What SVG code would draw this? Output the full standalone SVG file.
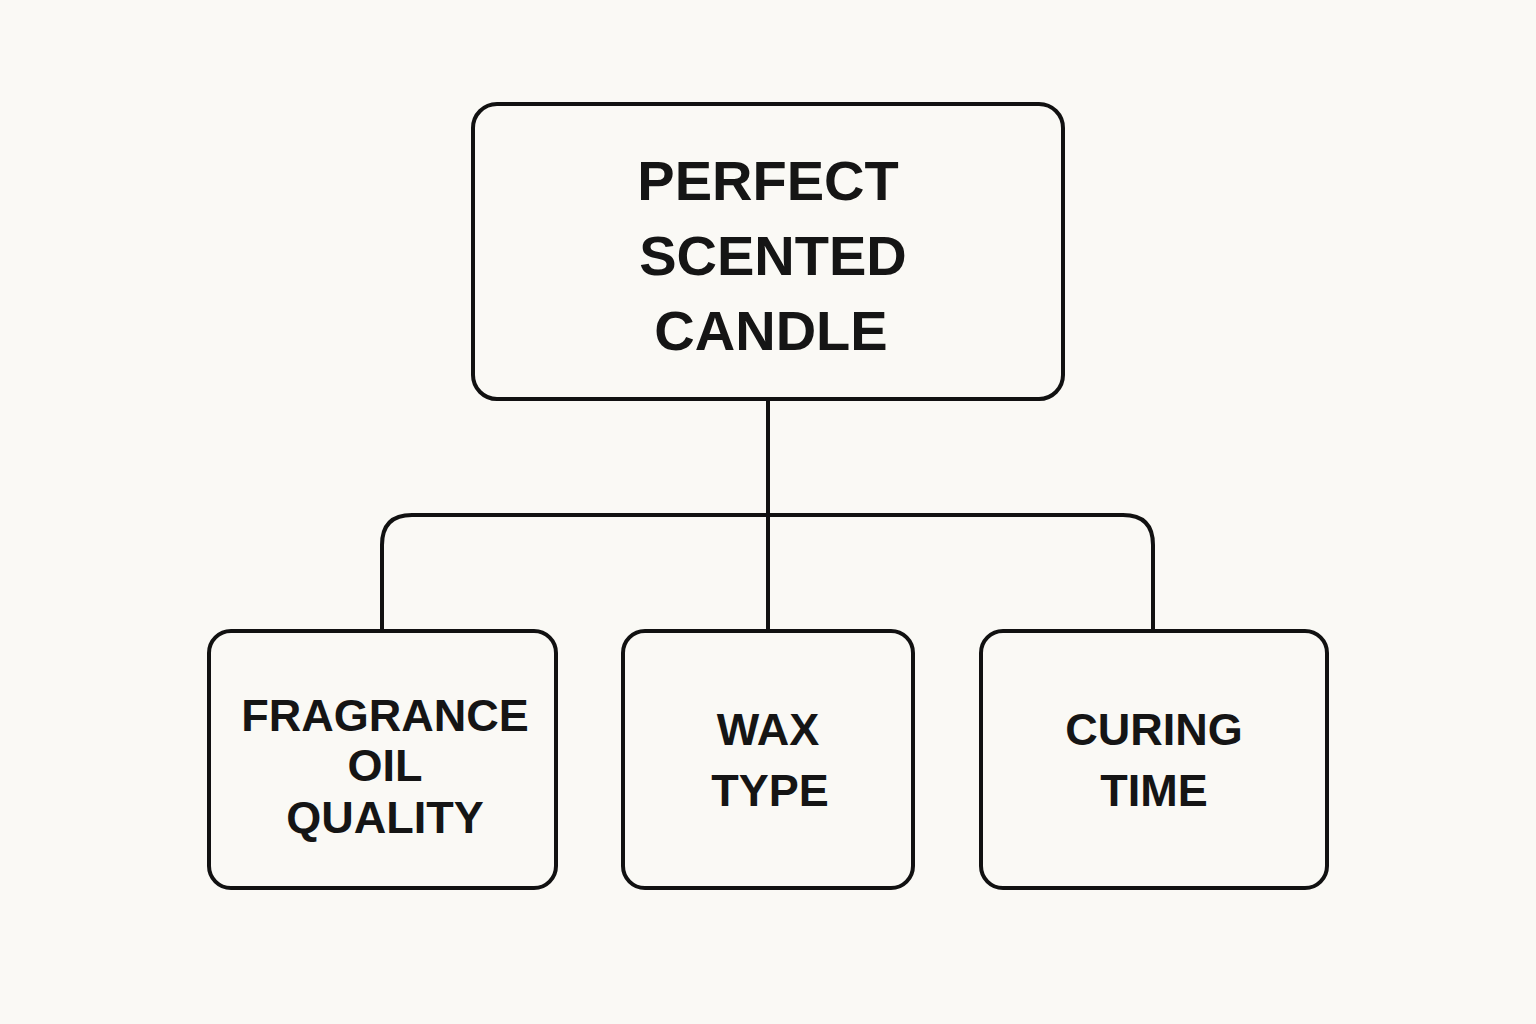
<svg xmlns="http://www.w3.org/2000/svg" width="1536" height="1024" viewBox="0 0 1536 1024">
<style>
.box{fill:none;stroke:#111;stroke-width:4}
.t{font-family:"Liberation Sans",Arial,sans-serif;font-weight:bold;fill:#151515;text-anchor:middle}
.big{font-size:56px}
.sm{font-size:45px}
.c{fill:none;stroke:#111;stroke-width:4}
</style>
<rect width="1536" height="1024" fill="#FAF9F5"/>
<g id="connectors">
<path class="c" d="M768 399V631"/>
<path class="c" d="M382 631V545Q382 515 412 515H1123Q1153 515 1153 545V631"/>
</g>
<g id="root"><rect class="box" x="473" y="104" width="590" height="295" rx="24"/>
<text class="t big" x="768" y="200">PERFECT</text><text class="t big" x="773" y="275">SCENTED</text><text class="t big" x="771" y="350">CANDLE</text></g>
<g id="fragrance"><rect class="box" x="209" y="631" width="347" height="257" rx="22"/>
<text class="t sm" x="385" y="731">FRAGRANCE</text><text class="t sm" x="385" y="781">OIL</text><text class="t sm" x="385" y="833">QUALITY</text></g>
<g id="wax"><rect class="box" x="623" y="631" width="290" height="257" rx="22"/>
<text class="t sm" x="768" y="745">WAX</text><text class="t sm" x="770" y="806">TYPE</text></g>
<g id="curing"><rect class="box" x="981" y="631" width="346" height="257" rx="22"/>
<text class="t sm" x="1154" y="745">CURING</text><text class="t sm" x="1154" y="806">TIME</text></g>
</svg>
